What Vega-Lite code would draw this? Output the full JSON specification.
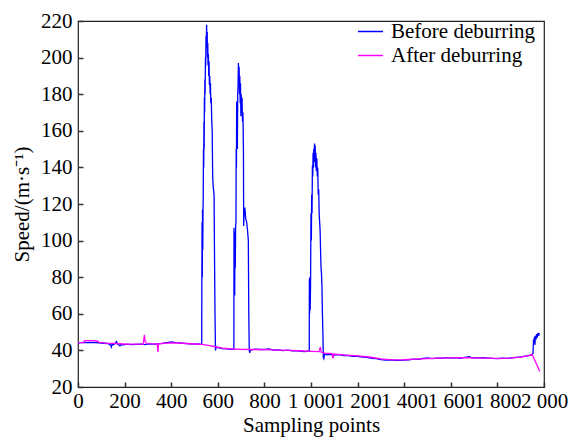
{
  "$schema": "https://vega.github.io/schema/vega-lite/v6.json",
  "width": 466,
  "height": 366,
  "autosize": "none",
  "padding": {"left": 78, "top": 21, "right": 35, "bottom": 53},
  "background": "white",
  "config": {
    "view": {"stroke": "#222", "strokeWidth": 1.2},
    "axis": {
      "grid": false,
      "domain": false,
      "tickColor": "#333",
      "tickWidth": 1.5,
      "labelColor": "black",
      "titleColor": "black",
      "titleFontWeight": "normal",
      "labelOverlap": false,
      "labelFlush": false
    },
    "legend": {
      "labelFont": "serif",
      "labelFontSize": 21,
      "labelColor": "black"
    }
  },
  "data": {"values": [
    {"s": "Before deburring", "x": 0, "y": 44.0}, {"s": "Before deburring", "x": 10, "y": 44.2}, {"s": "Before deburring", "x": 20, "y": 44.4}, {"s": "Before deburring", "x": 30, "y": 44.3}, {"s": "Before deburring", "x": 50, "y": 44.4},
    {"s": "Before deburring", "x": 70, "y": 44.3}, {"s": "Before deburring", "x": 90, "y": 44.1}, {"s": "Before deburring", "x": 110, "y": 43.9}, {"s": "Before deburring", "x": 130, "y": 43.7}, {"s": "Before deburring", "x": 140, "y": 42.8},
    {"s": "Before deburring", "x": 143, "y": 41.8}, {"s": "Before deburring", "x": 146, "y": 43.5}, {"s": "Before deburring", "x": 150, "y": 43.0}, {"s": "Before deburring", "x": 160, "y": 43.8}, {"s": "Before deburring", "x": 165, "y": 44.8},
    {"s": "Before deburring", "x": 170, "y": 43.5}, {"s": "Before deburring", "x": 180, "y": 42.5}, {"s": "Before deburring", "x": 185, "y": 43.2}, {"s": "Before deburring", "x": 195, "y": 43.0}, {"s": "Before deburring", "x": 210, "y": 43.4},
    {"s": "Before deburring", "x": 230, "y": 43.2}, {"s": "Before deburring", "x": 250, "y": 43.3}, {"s": "Before deburring", "x": 270, "y": 43.4}, {"s": "Before deburring", "x": 290, "y": 43.2}, {"s": "Before deburring", "x": 300, "y": 43.6},
    {"s": "Before deburring", "x": 320, "y": 43.4}, {"s": "Before deburring", "x": 340, "y": 43.5}, {"s": "Before deburring", "x": 360, "y": 43.8}, {"s": "Before deburring", "x": 380, "y": 44.3}, {"s": "Before deburring", "x": 400, "y": 44.6},
    {"s": "Before deburring", "x": 420, "y": 44.2}, {"s": "Before deburring", "x": 450, "y": 43.9}, {"s": "Before deburring", "x": 480, "y": 43.6}, {"s": "Before deburring", "x": 500, "y": 43.4}, {"s": "Before deburring", "x": 515, "y": 43.5},
    {"s": "Before deburring", "x": 529, "y": 43.3}, {"s": "Before deburring", "x": 531, "y": 43.4}, {"s": "Before deburring", "x": 531.5, "y": 75}, {"s": "Before deburring", "x": 532.5, "y": 110}, {"s": "Before deburring", "x": 533.5, "y": 80},
    {"s": "Before deburring", "x": 534.5, "y": 117}, {"s": "Before deburring", "x": 535.5, "y": 95}, {"s": "Before deburring", "x": 536.5, "y": 116}, {"s": "Before deburring", "x": 537.5, "y": 125}, {"s": "Before deburring", "x": 538.5, "y": 150},
    {"s": "Before deburring", "x": 539.5, "y": 140}, {"s": "Before deburring", "x": 540.5, "y": 165}, {"s": "Before deburring", "x": 541.5, "y": 150}, {"s": "Before deburring", "x": 542.5, "y": 178}, {"s": "Before deburring", "x": 543.5, "y": 170},
    {"s": "Before deburring", "x": 544.5, "y": 188}, {"s": "Before deburring", "x": 545.5, "y": 180}, {"s": "Before deburring", "x": 547, "y": 200}, {"s": "Before deburring", "x": 548, "y": 195}, {"s": "Before deburring", "x": 549.5, "y": 212},
    {"s": "Before deburring", "x": 550.5, "y": 205}, {"s": "Before deburring", "x": 552, "y": 218}, {"s": "Before deburring", "x": 553, "y": 208}, {"s": "Before deburring", "x": 554.5, "y": 214}, {"s": "Before deburring", "x": 555.5, "y": 200},
    {"s": "Before deburring", "x": 557, "y": 208}, {"s": "Before deburring", "x": 558, "y": 196}, {"s": "Before deburring", "x": 559.5, "y": 202}, {"s": "Before deburring", "x": 561, "y": 190}, {"s": "Before deburring", "x": 562.5, "y": 198},
    {"s": "Before deburring", "x": 564, "y": 185}, {"s": "Before deburring", "x": 565.5, "y": 190}, {"s": "Before deburring", "x": 567, "y": 180}, {"s": "Before deburring", "x": 568.5, "y": 186}, {"s": "Before deburring", "x": 570, "y": 175},
    {"s": "Before deburring", "x": 572, "y": 178}, {"s": "Before deburring", "x": 574, "y": 165}, {"s": "Before deburring", "x": 576, "y": 160}, {"s": "Before deburring", "x": 578, "y": 135}, {"s": "Before deburring", "x": 580, "y": 130},
    {"s": "Before deburring", "x": 584, "y": 125}, {"s": "Before deburring", "x": 586, "y": 90}, {"s": "Before deburring", "x": 588, "y": 60}, {"s": "Before deburring", "x": 590, "y": 40}, {"s": "Before deburring", "x": 592, "y": 41.5},
    {"s": "Before deburring", "x": 595, "y": 41.6}, {"s": "Before deburring", "x": 605, "y": 41.4}, {"s": "Before deburring", "x": 620, "y": 41.0}, {"s": "Before deburring", "x": 640, "y": 40.8}, {"s": "Before deburring", "x": 655, "y": 40.6},
    {"s": "Before deburring", "x": 666, "y": 40.6}, {"s": "Before deburring", "x": 669, "y": 40.5}, {"s": "Before deburring", "x": 669.5, "y": 107}, {"s": "Before deburring", "x": 670.5, "y": 75}, {"s": "Before deburring", "x": 671.5, "y": 105},
    {"s": "Before deburring", "x": 672.5, "y": 70}, {"s": "Before deburring", "x": 673.5, "y": 100}, {"s": "Before deburring", "x": 675, "y": 85}, {"s": "Before deburring", "x": 676.5, "y": 108}, {"s": "Before deburring", "x": 678, "y": 110},
    {"s": "Before deburring", "x": 679, "y": 150}, {"s": "Before deburring", "x": 680, "y": 140}, {"s": "Before deburring", "x": 681, "y": 176}, {"s": "Before deburring", "x": 682, "y": 160}, {"s": "Before deburring", "x": 683, "y": 170},
    {"s": "Before deburring", "x": 684, "y": 150}, {"s": "Before deburring", "x": 685.5, "y": 180}, {"s": "Before deburring", "x": 687, "y": 185}, {"s": "Before deburring", "x": 688.5, "y": 197}, {"s": "Before deburring", "x": 690, "y": 188},
    {"s": "Before deburring", "x": 691.5, "y": 195}, {"s": "Before deburring", "x": 693, "y": 180}, {"s": "Before deburring", "x": 694.5, "y": 190}, {"s": "Before deburring", "x": 696, "y": 175}, {"s": "Before deburring", "x": 697.5, "y": 186},
    {"s": "Before deburring", "x": 699, "y": 168}, {"s": "Before deburring", "x": 700.5, "y": 180}, {"s": "Before deburring", "x": 702, "y": 170}, {"s": "Before deburring", "x": 704, "y": 178}, {"s": "Before deburring", "x": 706, "y": 165},
    {"s": "Before deburring", "x": 708, "y": 170}, {"s": "Before deburring", "x": 710, "y": 150}, {"s": "Before deburring", "x": 711, "y": 108}, {"s": "Before deburring", "x": 713, "y": 115}, {"s": "Before deburring", "x": 716, "y": 118},
    {"s": "Before deburring", "x": 720, "y": 112}, {"s": "Before deburring", "x": 724, "y": 110}, {"s": "Before deburring", "x": 728, "y": 105}, {"s": "Before deburring", "x": 731, "y": 100}, {"s": "Before deburring", "x": 733, "y": 60},
    {"s": "Before deburring", "x": 735, "y": 40}, {"s": "Before deburring", "x": 737, "y": 38.6}, {"s": "Before deburring", "x": 740, "y": 40.2}, {"s": "Before deburring", "x": 745, "y": 40.3}, {"s": "Before deburring", "x": 760, "y": 40.7},
    {"s": "Before deburring", "x": 780, "y": 40.5}, {"s": "Before deburring", "x": 800, "y": 40.5}, {"s": "Before deburring", "x": 820, "y": 40.8}, {"s": "Before deburring", "x": 840, "y": 40.2}, {"s": "Before deburring", "x": 860, "y": 40.3},
    {"s": "Before deburring", "x": 880, "y": 39.9}, {"s": "Before deburring", "x": 900, "y": 40.1}, {"s": "Before deburring", "x": 920, "y": 39.8}, {"s": "Before deburring", "x": 940, "y": 39.7}, {"s": "Before deburring", "x": 960, "y": 39.5},
    {"s": "Before deburring", "x": 975, "y": 39.3}, {"s": "Before deburring", "x": 988, "y": 39.6}, {"s": "Before deburring", "x": 992.5, "y": 39.5}, {"s": "Before deburring", "x": 993, "y": 79}, {"s": "Before deburring", "x": 994, "y": 60},
    {"s": "Before deburring", "x": 995, "y": 80}, {"s": "Before deburring", "x": 996.5, "y": 62}, {"s": "Before deburring", "x": 998, "y": 75}, {"s": "Before deburring", "x": 1000, "y": 115}, {"s": "Before deburring", "x": 1001.5, "y": 100},
    {"s": "Before deburring", "x": 1003, "y": 125}, {"s": "Before deburring", "x": 1004.5, "y": 115}, {"s": "Before deburring", "x": 1006, "y": 141}, {"s": "Before deburring", "x": 1007.5, "y": 135}, {"s": "Before deburring", "x": 1009, "y": 148},
    {"s": "Before deburring", "x": 1010.5, "y": 140}, {"s": "Before deburring", "x": 1012, "y": 150}, {"s": "Before deburring", "x": 1013.5, "y": 143}, {"s": "Before deburring", "x": 1015, "y": 153}, {"s": "Before deburring", "x": 1016.5, "y": 145},
    {"s": "Before deburring", "x": 1018, "y": 152}, {"s": "Before deburring", "x": 1019.5, "y": 140}, {"s": "Before deburring", "x": 1021, "y": 148}, {"s": "Before deburring", "x": 1023, "y": 138}, {"s": "Before deburring", "x": 1025, "y": 145},
    {"s": "Before deburring", "x": 1027, "y": 135}, {"s": "Before deburring", "x": 1029, "y": 140}, {"s": "Before deburring", "x": 1031, "y": 125}, {"s": "Before deburring", "x": 1033, "y": 128}, {"s": "Before deburring", "x": 1035, "y": 115},
    {"s": "Before deburring", "x": 1037, "y": 110}, {"s": "Before deburring", "x": 1039, "y": 106}, {"s": "Before deburring", "x": 1041, "y": 95}, {"s": "Before deburring", "x": 1043, "y": 85}, {"s": "Before deburring", "x": 1045, "y": 82},
    {"s": "Before deburring", "x": 1047, "y": 75}, {"s": "Before deburring", "x": 1049, "y": 60}, {"s": "Before deburring", "x": 1051, "y": 50}, {"s": "Before deburring", "x": 1053, "y": 36}, {"s": "Before deburring", "x": 1055, "y": 35.5},
    {"s": "Before deburring", "x": 1058, "y": 38.0}, {"s": "Before deburring", "x": 1070, "y": 37.6}, {"s": "Before deburring", "x": 1080, "y": 37.9}, {"s": "Before deburring", "x": 1100, "y": 37.5}, {"s": "Before deburring", "x": 1120, "y": 37.7},
    {"s": "Before deburring", "x": 1140, "y": 37.1}, {"s": "Before deburring", "x": 1160, "y": 37.2}, {"s": "Before deburring", "x": 1180, "y": 36.7}, {"s": "Before deburring", "x": 1200, "y": 36.8}, {"s": "Before deburring", "x": 1220, "y": 36.3},
    {"s": "Before deburring", "x": 1240, "y": 36.2}, {"s": "Before deburring", "x": 1260, "y": 35.7}, {"s": "Before deburring", "x": 1280, "y": 35.5}, {"s": "Before deburring", "x": 1300, "y": 35.0}, {"s": "Before deburring", "x": 1320, "y": 34.7},
    {"s": "Before deburring", "x": 1340, "y": 34.9}, {"s": "Before deburring", "x": 1360, "y": 34.5}, {"s": "Before deburring", "x": 1380, "y": 34.6}, {"s": "Before deburring", "x": 1400, "y": 34.7}, {"s": "Before deburring", "x": 1420, "y": 34.9},
    {"s": "Before deburring", "x": 1440, "y": 35.2}, {"s": "Before deburring", "x": 1460, "y": 35.1}, {"s": "Before deburring", "x": 1480, "y": 35.6}, {"s": "Before deburring", "x": 1500, "y": 35.9}, {"s": "Before deburring", "x": 1520, "y": 35.5},
    {"s": "Before deburring", "x": 1540, "y": 35.8}, {"s": "Before deburring", "x": 1560, "y": 35.7}, {"s": "Before deburring", "x": 1580, "y": 36.1}, {"s": "Before deburring", "x": 1600, "y": 35.8}, {"s": "Before deburring", "x": 1620, "y": 36.0},
    {"s": "Before deburring", "x": 1640, "y": 35.7}, {"s": "Before deburring", "x": 1660, "y": 36.2}, {"s": "Before deburring", "x": 1680, "y": 36.6}, {"s": "Before deburring", "x": 1690, "y": 36.0}, {"s": "Before deburring", "x": 1700, "y": 36.1},
    {"s": "Before deburring", "x": 1720, "y": 35.9}, {"s": "Before deburring", "x": 1740, "y": 36.0}, {"s": "Before deburring", "x": 1760, "y": 35.8}, {"s": "Before deburring", "x": 1780, "y": 35.6}, {"s": "Before deburring", "x": 1800, "y": 35.5},
    {"s": "Before deburring", "x": 1820, "y": 35.7}, {"s": "Before deburring", "x": 1840, "y": 35.6}, {"s": "Before deburring", "x": 1860, "y": 35.9}, {"s": "Before deburring", "x": 1880, "y": 36.2}, {"s": "Before deburring", "x": 1900, "y": 36.5},
    {"s": "Before deburring", "x": 1920, "y": 36.9}, {"s": "Before deburring", "x": 1940, "y": 37.3}, {"s": "Before deburring", "x": 1950, "y": 37.8}, {"s": "Before deburring", "x": 1953, "y": 38.5}, {"s": "Before deburring", "x": 1955, "y": 46},
    {"s": "Before deburring", "x": 1957, "y": 44}, {"s": "Before deburring", "x": 1959, "y": 47.5}, {"s": "Before deburring", "x": 1961, "y": 43}, {"s": "Before deburring", "x": 1963, "y": 48}, {"s": "Before deburring", "x": 1966, "y": 46},
    {"s": "Before deburring", "x": 1968, "y": 49}, {"s": "Before deburring", "x": 1971, "y": 47}, {"s": "Before deburring", "x": 1974, "y": 49.5}, {"s": "Before deburring", "x": 1977, "y": 48}, {"s": "Before deburring", "x": 1980, "y": 49.5},
    {"s": "After deburring", "x": 0, "y": 44.2}, {"s": "After deburring", "x": 25, "y": 44.3}, {"s": "After deburring", "x": 28, "y": 45.3}, {"s": "After deburring", "x": 60, "y": 45.3}, {"s": "After deburring", "x": 85, "y": 45.0},
    {"s": "After deburring", "x": 90, "y": 44.4}, {"s": "After deburring", "x": 120, "y": 44.0}, {"s": "After deburring", "x": 150, "y": 43.8}, {"s": "After deburring", "x": 200, "y": 43.5}, {"s": "After deburring", "x": 250, "y": 43.4},
    {"s": "After deburring", "x": 280, "y": 43.5}, {"s": "After deburring", "x": 285, "y": 48.5}, {"s": "After deburring", "x": 288, "y": 45.0}, {"s": "After deburring", "x": 292, "y": 44.0}, {"s": "After deburring", "x": 300, "y": 43.7},
    {"s": "After deburring", "x": 340, "y": 43.5}, {"s": "After deburring", "x": 343, "y": 39.2}, {"s": "After deburring", "x": 346, "y": 43.6}, {"s": "After deburring", "x": 380, "y": 44.0}, {"s": "After deburring", "x": 400, "y": 44.1},
    {"s": "After deburring", "x": 450, "y": 43.9}, {"s": "After deburring", "x": 500, "y": 43.5}, {"s": "After deburring", "x": 530, "y": 43.3}, {"s": "After deburring", "x": 560, "y": 42.7}, {"s": "After deburring", "x": 590, "y": 42.0},
    {"s": "After deburring", "x": 620, "y": 41.2}, {"s": "After deburring", "x": 650, "y": 40.9}, {"s": "After deburring", "x": 700, "y": 40.6}, {"s": "After deburring", "x": 750, "y": 40.5}, {"s": "After deburring", "x": 800, "y": 40.4},
    {"s": "After deburring", "x": 850, "y": 40.2}, {"s": "After deburring", "x": 900, "y": 40.0}, {"s": "After deburring", "x": 950, "y": 39.8}, {"s": "After deburring", "x": 1000, "y": 39.5}, {"s": "After deburring", "x": 1035, "y": 39.3},
    {"s": "After deburring", "x": 1040, "y": 41.8}, {"s": "After deburring", "x": 1044, "y": 39.0}, {"s": "After deburring", "x": 1060, "y": 38.5}, {"s": "After deburring", "x": 1090, "y": 38.2}, {"s": "After deburring", "x": 1094, "y": 35.6},
    {"s": "After deburring", "x": 1098, "y": 38.0}, {"s": "After deburring", "x": 1150, "y": 37.4}, {"s": "After deburring", "x": 1200, "y": 37.0}, {"s": "After deburring", "x": 1250, "y": 36.4}, {"s": "After deburring", "x": 1300, "y": 35.4},
    {"s": "After deburring", "x": 1350, "y": 34.8}, {"s": "After deburring", "x": 1400, "y": 34.9}, {"s": "After deburring", "x": 1450, "y": 35.2}, {"s": "After deburring", "x": 1500, "y": 35.5}, {"s": "After deburring", "x": 1550, "y": 35.8},
    {"s": "After deburring", "x": 1600, "y": 35.9}, {"s": "After deburring", "x": 1650, "y": 36.0}, {"s": "After deburring", "x": 1700, "y": 35.9}, {"s": "After deburring", "x": 1750, "y": 35.8}, {"s": "After deburring", "x": 1800, "y": 35.6},
    {"s": "After deburring", "x": 1850, "y": 35.8}, {"s": "After deburring", "x": 1900, "y": 36.3}, {"s": "After deburring", "x": 1950, "y": 37.6}, {"s": "After deburring", "x": 1982, "y": 28.5}
  ]},
  "mark": {"type": "line", "strokeWidth": 1.3, "clip": true},
  "encoding": {
    "x": {
      "field": "x", "type": "quantitative",
      "scale": {"domain": [0, 2000], "nice": false, "zero": false},
      "axis": {
        "orient": "bottom",
        "title": "Sampling points",
        "values": [0, 200, 400, 600, 800, 1000, 1200, 1400, 1600, 1800, 2000],
        "labelExpr": "replace(format(datum.value, ',d'), ',', ' ')",
        "labelFont": "serif",
        "labelFontSize": 21,
        "titleFont": "serif",
        "titleFontSize": 21,
        "tickSize": -5,
        "labelPadding": 8,
        "titlePadding": 3
      }
    },
    "y": {
      "field": "y", "type": "quantitative",
      "scale": {"domain": [20, 220], "nice": false, "zero": false},
      "axis": {
        "orient": "left",
        "title": "Speed/(m·s⁻¹)",
        "values": [20, 40, 60, 80, 100, 120, 140, 160, 180, 200, 220],
        "labelFont": "serif",
        "labelFontSize": 21,
        "titleFont": "serif",
        "titleFontSize": 21,
        "tickSize": -5,
        "labelPadding": 11,
        "titlePadding": 8
      }
    },
    "color": {
      "field": "s",
      "type": "nominal",
      "sort": ["Before deburring", "After deburring"],
      "scale": {"domain": ["Before deburring", "After deburring"], "range": ["#0000FF", "#FF00FF"]},
      "legend": {
        "title": null,
        "orient": "none",
        "legendX": 279,
        "legendY": -3,
        "symbolType": "stroke",
        "symbolSize": 625,
        "symbolStrokeWidth": 1.5,
        "labelOffset": 7,
        "rowPadding": -5,
        "padding": 0
      }
    }
  }
}
